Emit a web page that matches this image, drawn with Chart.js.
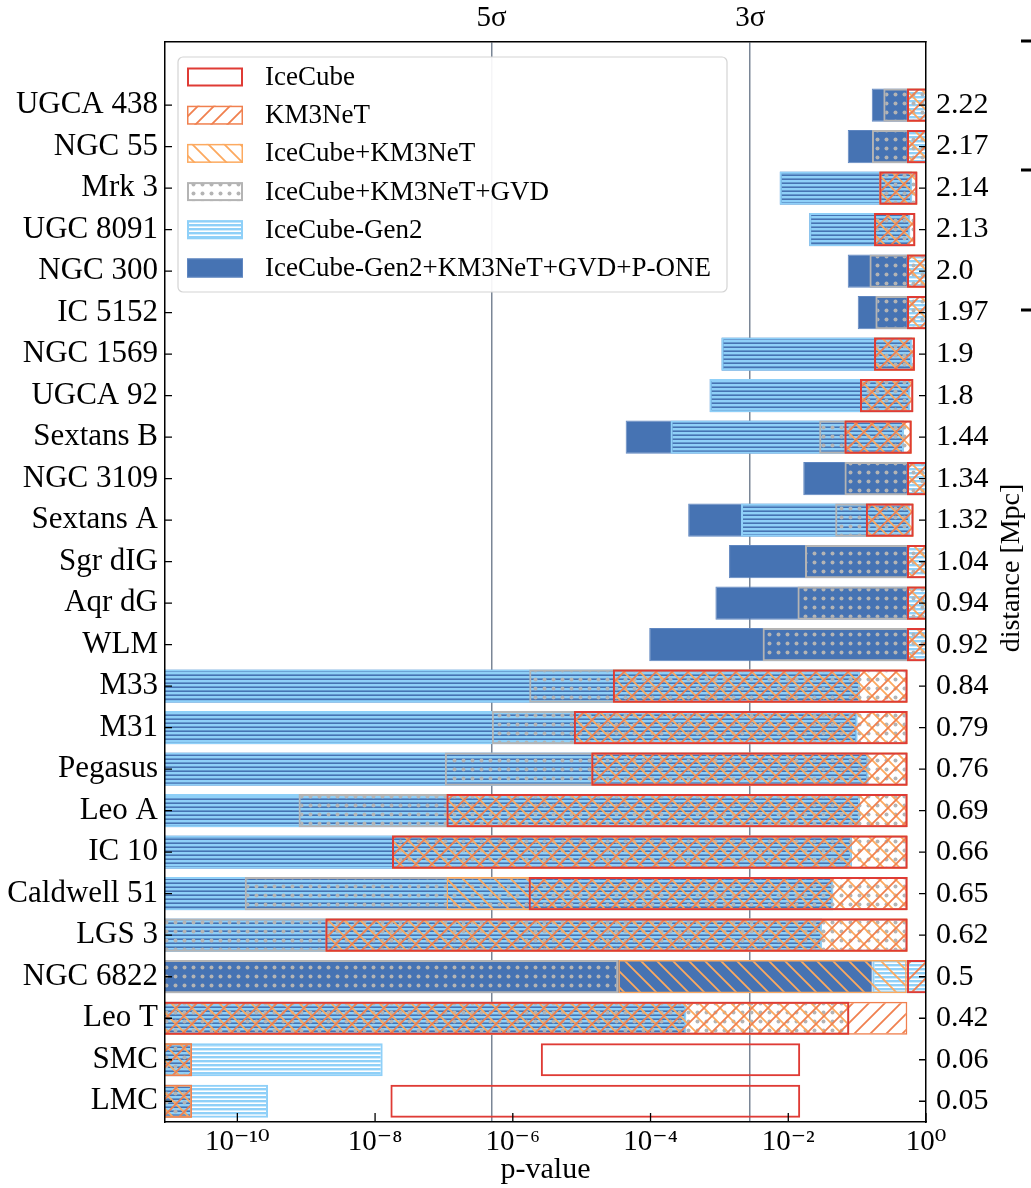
<!DOCTYPE html>
<html>
<head>
<meta charset="utf-8">
<script src="https://cdn.jsdelivr.net/npm/chart.js@4.4.0/dist/chart.umd.min.js"></script>
<style>
  html, body { margin: 0; padding: 0; background: #fff; }
  canvas { display: block; }
</style>
</head>
<body>
<canvas id="chart" width="1031" height="1188"></canvas>
<script>
// rows, top to bottom
const galaxies = ['UGCA 438', 'NGC 55', 'Mrk 3', 'UGC 8091', 'NGC 300', 'IC 5152', 'NGC 1569', 'UGCA 92',
  'Sextans B', 'NGC 3109', 'Sextans A', 'Sgr dIG', 'Aqr dG', 'WLM', 'M33', 'M31', 'Pegasus', 'Leo A',
  'IC 10', 'Caldwell 51', 'LGS 3', 'NGC 6822', 'Leo T', 'SMC', 'LMC'];
const distances = ['2.22', '2.17', '2.14', '2.13', '2.0', '1.97', '1.9', '1.8', '1.44', '1.34', '1.32', '1.04',
  '0.94', '0.92', '0.84', '0.79', '0.76', '0.69', '0.66', '0.65', '0.62', '0.5', '0.42', '0.06', '0.05'];

const tickValues = [1e-10, 1e-8, 1e-6, 1e-4, 1e-2, 1];
const tickLabels = ['10⁻¹⁰', '10⁻⁸', '10⁻⁶', '10⁻⁴', '10⁻²', '10⁰'];
const sigmaValues = [4.9e-7, 2.8e-3];
const sigmaLabels = ['5σ', '3σ'];
const xMin = 8.9e-12, xMax = 1;
const rowMin = -1.52, rowMax = 24.5;

const seriesNames = ['IceCube', 'KM3NeT', 'IceCube+KM3NeT', 'IceCube+KM3NeT+GVD', 'IceCube-Gen2',
  'IceCube-Gen2+KM3NeT+GVD+P-ONE'];

// p-value ranges [low, high] per galaxy
const iceCube = [[0.53, 2], [0.53, 2], [0.21, 0.75], [0.176, 0.70], [0.53, 2], [0.53, 2], [0.176, 0.69],
  [0.110, 0.655], [0.0655, 0.62], [0.53, 2], [0.134, 0.66], [0.53, 2], [0.53, 2], [0.53, 2],
  [2.84e-5, 0.54], [7.7e-6, 0.54], [1.38e-5, 0.54], [1.09e-7, 0.54], [1.76e-8, 0.54], [1.7e-6, 0.54],
  [1.9e-9, 0.54], [0.53, 2], [1e-12, 0.077], [2.55e-6, 0.0149], [1.67e-8, 0.0149]];
const km3net = [[0.53, 2], [0.53, 2], [0.21, 0.75], [0.176, 0.70], [0.53, 2], [0.53, 2], [0.176, 0.69],
  [0.110, 0.655], [0.0655, 0.62], [0.53, 2], [0.134, 0.66], [0.53, 2], [0.53, 2], [0.53, 2],
  [2.84e-5, 0.54], [7.7e-6, 0.54], [1.38e-5, 0.54], [1.09e-7, 0.54], [1.76e-8, 0.54], [1.7e-6, 0.54],
  [1.9e-9, 0.54], [0.53, 2], [1e-12, 0.536], [1e-12, 2.2e-11], [1e-12, 2.2e-11]];
const iceKm3 = [[0.53, 2], [0.53, 2], [0.21, 0.75], [0.176, 0.70], [0.53, 2], [0.53, 2], [0.176, 0.69],
  [0.110, 0.655], [0.0655, 0.62], [0.53, 2], [0.134, 0.66], [0.53, 2], [0.53, 2], [0.53, 2],
  [2.84e-5, 0.54], [7.7e-6, 0.54], [1.38e-5, 0.54], [1.09e-7, 0.54], [1.76e-8, 0.54], [1.09e-7, 0.54],
  [1.9e-9, 0.54], [3.4e-5, 0.525], [1e-12, 0.077], [1e-12, 2.2e-11], [1e-12, 2.2e-11]];
const iceKm3Gvd = [[0.24, 2], [0.164, 2], [0.21, 0.75], [0.176, 0.70], [0.151, 2], [0.184, 2], [0.176, 0.69],
  [0.110, 0.655], [0.0281, 0.62], [0.0655, 2], [0.048, 0.66], [0.0175, 2], [0.0136, 2], [4.24e-3, 2],
  [1.73e-6, 0.54], [4.96e-7, 0.54], [1.03e-7, 0.54], [7.74e-10, 0.54], [1.76e-8, 0.54], [1.28e-10, 0.54],
  [1e-12, 0.54], [1e-12, 3.4e-5], [1e-12, 0.077], [1e-12, 2.2e-11], [1e-12, 2.2e-11]];
const gen2 = [[0.53, 2], [0.53, 2], [0.0075, 0.63], [0.0201, 0.59], [0.53, 2], [0.53, 2], [0.00107, 0.63],
  [7.2e-4, 0.59], [1.95e-4, 0.48], [0.53, 2], [2.06e-3, 0.59], [0.53, 2], [0.53, 2], [0.53, 2],
  [1e-12, 0.110], [1e-12, 0.101], [1e-12, 0.146], [1e-12, 0.110], [1e-12, 0.084], [1e-12, 0.045],
  [1e-12, 0.031], [0.167, 2], [1e-12, 3.3e-4], [1e-12, 1.29e-8], [1e-12, 2.79e-10]];
const gen2All = [[0.163, 0.53], [0.073, 0.53], [0.0075, 0.63], [0.0201, 0.59], [0.073, 0.53], [0.102, 0.53],
  [0.00107, 0.63], [7.2e-4, 0.59], [4.35e-5, 0.48], [0.0165, 0.53], [3.52e-4, 0.59], [1.38e-3, 0.53],
  [8.75e-4, 0.53], [9.57e-5, 0.53], [1e-12, 0.110], [1e-12, 0.101], [1e-12, 0.146], [1e-12, 0.110],
  [1e-12, 0.084], [1e-12, 0.045], [1e-12, 0.031], [1e-12, 0.167], [1e-12, 3.3e-4], [1e-12, 2.2e-11],
  [1e-12, 2.2e-11]];

const seriesData = [iceCube, km3net, iceKm3, iceKm3Gvd, gen2, gen2All];

/* hatch patterns */
function makePattern(w, h, paint) {
  const c = document.createElement('canvas');
  c.width = w; c.height = h;
  const g = c.getContext('2d');
  paint(g, w, h);
  return g.createPattern(c, 'repeat');
}
const hatchFwd = makePattern(16, 16, (g, s) => {
  g.strokeStyle = '#f0804f'; g.lineWidth = 1.8;
  g.beginPath();
  g.moveTo(0, s); g.lineTo(s, 0);
  g.moveTo(-2, 2); g.lineTo(2, -2);
  g.moveTo(s - 2, s + 2); g.lineTo(s + 2, s - 2);
  g.stroke();
});
const hatchBack = makePattern(16, 16, (g, s) => {
  g.strokeStyle = '#fca95f'; g.lineWidth = 1.8;
  g.beginPath();
  g.moveTo(0, 0); g.lineTo(s, s);
  g.moveTo(s - 2, -2); g.lineTo(s + 2, 2);
  g.moveTo(-2, s - 2); g.lineTo(2, s + 2);
  g.stroke();
});
const dots = makePattern(9, 9, (g) => {
  g.fillStyle = '#b4b4b4';
  g.beginPath(); g.arc(4.5, 4.5, 2, 0, Math.PI * 2); g.fill();
});
const stripes = makePattern(4, 4, (g) => {
  g.fillStyle = '#8fd0f8';
  g.fillRect(0, 0, 4, 2.4);
});

const styles = [
  { bg: 'rgba(0,0,0,0)', border: '#df3b35', width: 2 },
  { bg: hatchFwd, border: '#f0804f', width: 1.5 },
  { bg: hatchBack, border: '#fcaa60', width: 1.5 },
  { bg: dots, border: '#b4b4b4', width: 2 },
  { bg: stripes, border: '#8fd0f8', width: 2 },
  { bg: '#4673b3', border: '#5f86c0', width: 1 }
];

Chart.defaults.font.family = "'Liberation Serif', 'DejaVu Serif', serif";
Chart.defaults.color = '#000';

const inwardTicks = {
  id: 'inwardTicks',
  afterDatasetsDraw(chart) {
    const { ctx, chartArea: a, scales } = chart;
    ctx.save();
    ctx.strokeStyle = '#000';
    ctx.lineWidth = 1.3;
    ctx.beginPath();
    tickValues.forEach(v => {
      const px = scales.x.getPixelForValue(v);
      ctx.moveTo(px, a.bottom); ctx.lineTo(px, a.bottom - 9);
    });
    galaxies.forEach((g, i) => {
      const py = scales.y.getPixelForValue(i);
      ctx.moveTo(a.left, py); ctx.lineTo(a.left + 7, py);
      ctx.moveTo(a.right, py); ctx.lineTo(a.right - 7, py);
    });
    ctx.stroke();
    ctx.restore();
  }
};

const boxLegend = {
  id: 'boxLegend',
  afterDraw(chart) {
    const { ctx, chartArea: a } = chart;
    const x0 = a.left + 13, y0 = a.top + 15, w = 549, h = 235;
    ctx.save();
    ctx.beginPath();
    ctx.roundRect(x0, y0, w, h, 5);
    ctx.fillStyle = 'rgba(255,255,255,0.92)';
    ctx.fill();
    ctx.strokeStyle = '#d4d4d4';
    ctx.lineWidth = 1.2;
    ctx.stroke();
    ctx.font = "27px 'Liberation Serif', serif";
    ctx.textBaseline = 'middle';
    chart.data.datasets.forEach((ds, i) => {
      const cy = y0 + 20 + i * 38.2;
      const px = x0 + 9, pw = 56, ph = 19;
      ctx.fillStyle = ds.backgroundColor;
      ctx.fillRect(px, cy - ph / 2, pw, ph);
      ctx.strokeStyle = ds.borderColor;
      ctx.lineWidth = ds.borderWidth;
      ctx.strokeRect(px + ds.borderWidth / 2, cy - ph / 2 + ds.borderWidth / 2, pw - ds.borderWidth, ph - ds.borderWidth);
      ctx.fillStyle = '#000';
      ctx.fillText(ds.label, x0 + 87, cy + 1);
    });
    // right axis title, reading bottom to top
    ctx.translate(1012, (a.top + a.bottom) / 2 - 14);
    ctx.rotate(-Math.PI / 2);
    ctx.textAlign = 'center';
    ctx.font = "28px 'Liberation Serif', serif";
    ctx.fillText('distance [Mpc]', 0, 0);
    ctx.restore();
    // tick stubs of the neighbouring panel at the right edge
    ctx.save();
    ctx.strokeStyle = '#000';
    ctx.lineWidth = 3;
    ctx.beginPath();
    [41, 170, 310].forEach(y => { ctx.moveTo(1021, y); ctx.lineTo(1031, y); });
    ctx.stroke();
    ctx.restore();
  }
};

new Chart(document.getElementById('chart'), {
  type: 'bar',
  data: {
    datasets: seriesNames.map((name, i) => ({
      label: name,
      data: seriesData[i].map((range, k) => ({ x: range, y: k })),
      backgroundColor: styles[i].bg,
      borderColor: styles[i].border,
      borderWidth: styles[i].width,
      borderSkipped: false,
      grouped: false,
      barPercentage: 0.8,
      categoryPercentage: 1,
      clip: 0,
      xAxisID: 'x',
      yAxisID: 'y'
    }))
  },
  options: {
    indexAxis: 'y',
    responsive: false,
    animation: false,
    devicePixelRatio: 1,
    layout: { padding: 0 },
    plugins: { legend: { display: false }, tooltip: { enabled: false } },
    scales: {
      x: {
        type: 'logarithmic',
        position: 'bottom',
        min: xMin, max: xMax,
        afterBuildTicks: s => { s.ticks = tickValues.map(v => ({ value: v })); },
        afterFit: s => { s.height = 66; },
        ticks: {
          callback: (v, i) => tickLabels[i],
          autoSkip: false, maxRotation: 0, padding: 3,
          font: { size: 29 }, color: '#000'
        },
        grid: { display: false, drawTicks: false },
        border: { display: true, color: '#000', width: 1.5, z: 1 },
        title: { display: true, text: 'p-value', font: { size: 30 }, color: '#000', padding: { top: 0, bottom: 0 } }
      },
      xTop: {
        type: 'logarithmic',
        position: 'top',
        min: xMin, max: xMax,
        afterBuildTicks: s => { s.ticks = sigmaValues.map(v => ({ value: v })); },
        afterFit: s => { s.height = 42; },
        ticks: {
          callback: (v, i) => sigmaLabels[i],
          autoSkip: false, maxRotation: 0, padding: 6,
          font: { size: 29 }, color: '#000'
        },
        grid: { display: true, drawOnChartArea: true, drawTicks: false, color: '#7a8696', lineWidth: 1.5 },
        border: { display: true, color: '#000', width: 1.5, z: 1 }
      },
      y: {
        type: 'linear',
        position: 'left',
        min: rowMin, max: rowMax,
        reverse: true,
        offset: false,
        afterBuildTicks: s => { s.ticks = galaxies.map((g, i) => ({ value: i })); },
        afterFit: s => { s.width = 165; },
        ticks: { callback: v => galaxies[v], font: { size: 31 }, color: '#000', padding: 7, autoSkip: false },
        grid: { display: false, drawTicks: false, offset: false },
        border: { display: true, color: '#000', width: 1.5, z: 1 }
      },
      y2: {
        type: 'linear',
        position: 'right',
        display: true,
        min: rowMin, max: rowMax,
        reverse: true,
        offset: false,
        afterBuildTicks: s => { s.ticks = distances.map((d, i) => ({ value: i })); },
        afterFit: s => { s.width = 105; },
        ticks: { callback: v => distances[v], font: { size: 30 }, color: '#000', padding: 10, autoSkip: false },
        grid: { display: false, drawTicks: false, offset: false },
        border: { display: true, color: '#000', width: 1.5, z: 1 }
      }
    }
  },
  plugins: [inwardTicks, boxLegend]
});
</script>
</body>
</html>
